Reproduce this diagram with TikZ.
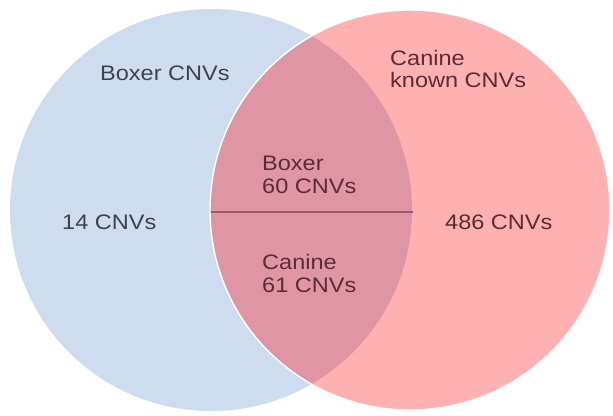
\documentclass[tikz,border=0pt]{standalone}
\usepackage{fontspec}
\setmainfont[FakeStretch=1.12]{Liberation Sans}
\definecolor{bluefill}{HTML}{CDDCEE}
\definecolor{pinkfill}{HTML}{FFB1B1}
\definecolor{midfill}{HTML}{DF95A4}
\definecolor{divline}{HTML}{9E5A6A}
\definecolor{bluetxt}{HTML}{3C4250}
\definecolor{redtxt}{HTML}{5A2C36}
\tikzset{
  lbl/.style={anchor=base west, inner sep=0pt, font=\fontsize{21}{23}\selectfont},
  bl/.style={lbl, text=bluetxt},
  rl/.style={lbl, text=redtxt},
}
\begin{document}
\begin{tikzpicture}[x=1pt,y=-1pt]
\useasboundingbox (0,0) rectangle (613,415);
\fill[white] (0,0) rectangle (613,415);
% circles
\fill[bluefill] (211,210) circle (201);
\fill[pinkfill] (410,210) circle (200);
\begin{scope}
  \clip (211,210) circle (201);
  \fill[midfill] (410,210) circle (200);
\end{scope}
\draw[white, line width=1.4pt] (410,210) circle (200);
% divider
\coordinate (dl) at (211,212);
\coordinate (dr) at (413,212);
\draw[divline, line width=1.5pt] (dl) -- (dr);
% labels
\node[bl] (boxer) at (100,80) {Boxer CNVs};
\node[rl] (can1) at (390,65) {Canine};
\node[rl] (can2) at (390,87) {known CNVs};
\node[rl] (bx1) at (262,170) {Boxer};
\node[rl] (bx2) at (262,193) {60 CNVs};
\node[bl] (n14) at (62,229) {14 CNVs};
\node[rl] (n486) at (445,229) {486 CNVs};
\node[rl] (cn1) at (262,269) {Canine};
\node[rl] (cn2) at (262,292) {61 CNVs};
\end{tikzpicture}
\end{document}
